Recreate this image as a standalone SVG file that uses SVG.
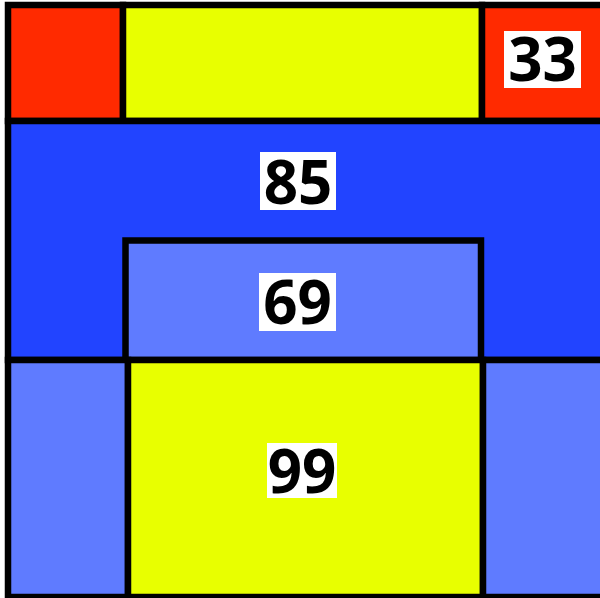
<svg xmlns="http://www.w3.org/2000/svg" width="600" height="598" viewBox="0 0 600 598">
<style>
.c{stroke:#000;stroke-width:6.5;stroke-linejoin:miter}
.red{fill:#ff2a00}.yel{fill:#e8ff00}.blu{fill:#2244ff}.lb{fill:#5f7bff}
.lbl{fill:#fff}
.t{font-family:"Open Sans","Noto Sans","DejaVu Sans",sans-serif;font-weight:700;font-size:60px;fill:#000;text-anchor:middle}
</style>
<rect x="0" y="0" width="600" height="598" fill="#fff"/>
<g id="n-red-tl"><rect class="c red" x="8" y="5" width="115" height="116"/></g>
<g id="n-yellow-top"><rect class="c yel" x="123" y="5" width="359" height="116"/></g>
<g id="n-33"><rect class="c red" x="482" y="5" width="124" height="116"/><rect class="lbl" x="504" y="31" width="77" height="57"/><text class="t" x="542.5" y="81">33</text></g>
<g id="n-85"><rect class="c blu" x="8" y="121" width="598" height="239"/><rect class="lbl" x="260" y="152" width="76" height="58"/><text class="t" x="298" y="204">85</text></g>
<g id="n-69"><rect class="c lb" x="125.5" y="240.5" width="355.5" height="119.5"/><rect class="lbl" x="259" y="273" width="77" height="58"/><text class="t" x="297.5" y="324">69</text></g>
<g id="n-lb-bl"><rect class="c lb" x="8" y="360" width="120" height="237"/></g>
<g id="n-99"><rect class="c yel" x="128" y="360" width="355" height="237"/><rect class="lbl" x="267" y="443" width="70" height="55"/><text class="t" x="302" y="493">99</text></g>
<g id="n-lb-br"><rect class="c lb" x="483" y="360" width="123" height="237"/></g>
<g id="connectors"></g>
</svg>
